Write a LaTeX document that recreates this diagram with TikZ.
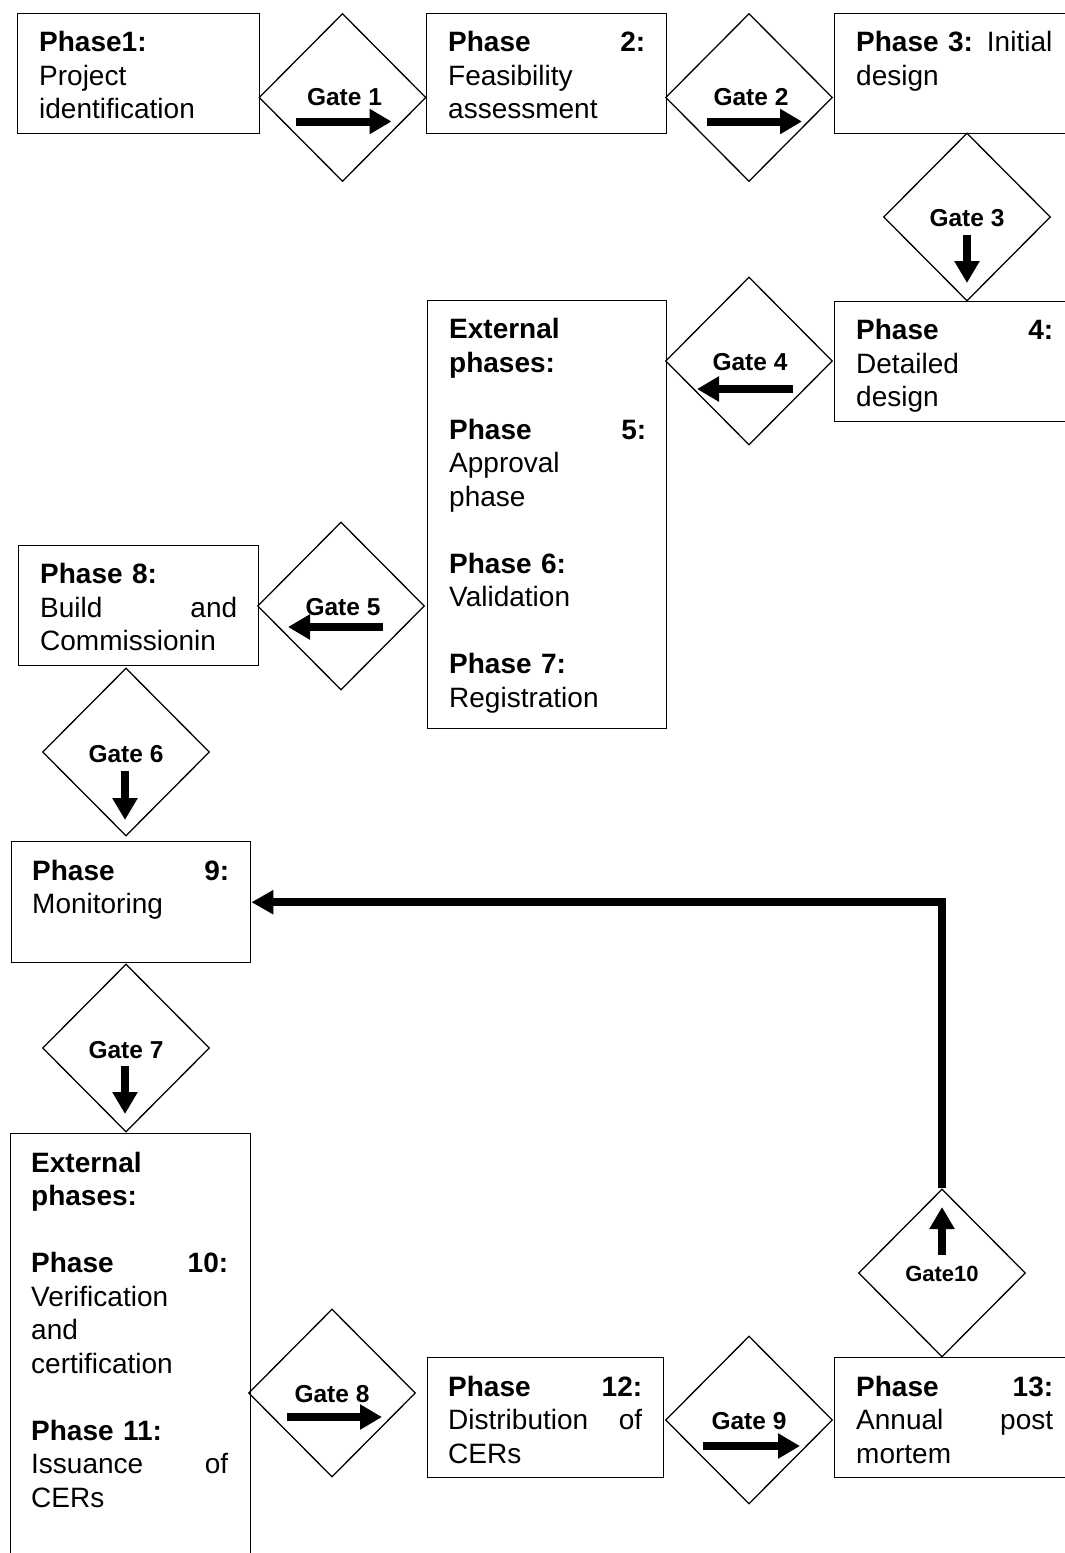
\documentclass[tikz,border=0pt]{standalone}
\usepackage{fontspec}
\setmainfont{Liberation Sans}
\usetikzlibrary{shapes.geometric,arrows.meta,calc}
\begin{document}
\begin{tikzpicture}[x=1pt,y=-1pt,
  box/.style={draw, line width=1.4pt, rectangle, inner sep=0pt, anchor=north west, minimum width=240pt, minimum height=120pt},
  txt/.style={anchor=north west, inner sep=0pt, text width=197pt, align=left, font=\fontsize{28}{33.5}\selectfont},
  gate/.style={draw, diamond, line width=1.3pt, inner sep=0pt, minimum width=167pt, minimum height=168pt},
  glabel/.style={font=\fontsize{24.5}{28}\selectfont\bfseries, inner sep=0pt},
  garrow/.style={line width=8pt, -{Triangle[length=22pt,width=24pt]}},
  loopline/.style={line width=7.5pt, -{Triangle[length=22pt,width=23pt]}}]

\useasboundingbox (0,0) rectangle (1065,1553);
\clip (0,0) rectangle (1065,1553);
\fill[white] (0,0) rectangle (1065,1553);

% ---------- phase boxes ----------
\node[box, minimum width=242pt] (p1) at (17,13) {};
\node[txt] (t1) at ($(p1.north west)+(22,18.5)$) {\textbf{Phase1:}\\Project\\identification};

\node[box] (p2) at (426,13) {};
\node[txt] (t2) at ($(p2.north west)+(22,18.5)$) {\textbf{Phase}\hfill\textbf{2:}\\Feasibility\\assessment};

\node[box] (p3) at (834,13) {};
\node[txt] (t3) at ($(p3.north west)+(22,18.5)$) {\textbf{Phase 3:} Initial\\design};

\node[box] (p4) at (834,301) {};
\node[txt] (t4) at ($(p4.north west)+(22,18.5)$) {\textbf{Phase}\hfill\textbf{4:}\\Detailed\\design};

\node[box, minimum width=239pt, minimum height=428pt] (e1) at (427,300) {};
\node[txt] (te1) at ($(e1.north west)+(22,18.5)$) {\textbf{External}\\\textbf{phases:}\\\mbox{}\\\textbf{Phase}\hfill\textbf{5:}\\Approval\\phase\\\mbox{}\\\textbf{Phase 6:}\\Validation\\\mbox{}\\\textbf{Phase 7:}\\Registration};

\node[box] (p8) at (18,545) {};
\node[txt] (t8) at ($(p8.north west)+(22,18.5)$) {\textbf{Phase 8:}\\Build\hfill and\\Commissionin};

\node[box, minimum width=239pt, minimum height=121pt] (p9) at (11,841) {};
\node[txt] (t9) at ($(p9.north west)+(21,18.5)$) {\textbf{Phase}\hfill\textbf{9:}\\Monitoring};

\node[box, minimum width=240pt, minimum height=440pt] (e2) at (10,1133) {};
\node[txt] (te2) at ($(e2.north west)+(21,18.5)$) {\textbf{External}\\\textbf{phases:}\\\mbox{}\\\textbf{Phase}\hfill\textbf{10:}\\Verification\\and\\certification\\\mbox{}\\\textbf{Phase 11:}\\Issuance\hfill of\\CERs};

\node[box, minimum width=236pt] (p12) at (427,1357) {};
\node[txt, text width=194pt] (t12) at ($(p12.north west)+(21,18.5)$) {\textbf{Phase}\hfill\textbf{12:}\\Distribution\hfill of\\CERs};

\node[box] (p13) at (834,1357) {};
\node[txt] (t13) at ($(p13.north west)+(22,18.5)$) {\textbf{Phase}\hfill\textbf{13:}\\Annual\hfill post\\mortem};

% ---------- gates ----------
\node[gate] (g1) at (342.5,97.5) {};
\node[gate] (g2) at (749,97.5) {};
\node[gate] (g3) at (967,217) {};
\node[gate] (g4) at (749,361) {};
\node[gate] (g5) at (341,606) {};
\node[gate] (g6) at (126,752) {};
\node[gate] (g7) at (126,1048) {};
\node[gate] (g8) at (332,1393) {};
\node[gate] (g9) at (749,1420) {};
\node[gate] (g10) at (942,1273) {};

\node[glabel] (l1) at ($(g1)+(2,0)$) {Gate 1};
\node[glabel] (l2) at ($(g2)+(2,0)$) {Gate 2};
\node[glabel] (l3) at ($(g3)+(0,1)$) {Gate 3};
\node[glabel] (l4) at ($(g4)+(1,1)$) {Gate 4};
\node[glabel] (l5) at ($(g5)+(2,1)$) {Gate 5};
\node[glabel] (l6) at ($(g6)+(0,2)$) {Gate 6};
\node[glabel] (l7) at ($(g7)+(0,2)$) {Gate 7};
\node[glabel] (l8) at ($(g8)+(0,1)$) {Gate 8};
\node[glabel] (l9) at ($(g9)+(0,1)$) {Gate 9};
\node[glabel, font=\fontsize{22}{26}\selectfont\bfseries] (l10) at ($(g10)+(0,1)$) {Gate10};

% ---------- direction arrows inside gates ----------
\draw[garrow] ($(g1)+(-47,24)$) -- ($(g1)+(49,24)$);
\draw[garrow] ($(g2)+(-42,24)$) -- ($(g2)+(53,24)$);
\draw[garrow] ($(g3)+(0,18)$) -- ($(g3)+(0,66)$);
\draw[garrow] ($(g4)+(44,28)$) -- ($(g4)+(-52,28)$);
\draw[garrow] ($(g5)+(42,21)$) -- ($(g5)+(-53,21)$);
\draw[garrow] ($(g6)+(-1,19)$) -- ($(g6)+(-1,68)$);
\draw[garrow] ($(g7)+(-1,18)$) -- ($(g7)+(-1,66)$);
\draw[garrow] ($(g8)+(-45,24)$) -- ($(g8)+(50,24)$);
\draw[garrow] ($(g9)+(-46,26)$) -- ($(g9)+(51,26)$);
\draw[garrow] ($(g10)+(0,-18)$) -- ($(g10)+(0,-66)$);

% ---------- feedback loop ----------
\draw[loopline] (g10.north) |- (p9.east);
\end{tikzpicture}
\end{document}
